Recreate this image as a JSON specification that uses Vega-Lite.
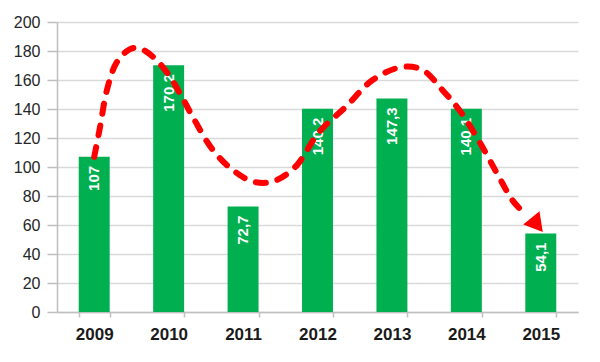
{
  "$schema": "https://vega.github.io/schema/vega-lite/v6.json",
  "width": 521,
  "height": 290,
  "autosize": {"type": "none"},
  "padding": {"left": 57, "top": 22, "right": 22, "bottom": 50},
  "background": "white",
  "datasets": {
    "bars": [
      {"year": "2009", "value": 107},
      {"year": "2010", "value": 170.2},
      {"year": "2011", "value": 72.7},
      {"year": "2012", "value": 140.2},
      {"year": "2013", "value": 147.3},
      {"year": "2014", "value": 140.1},
      {"year": "2015", "value": 54.1}
    ],
    "curve": [
      {"pos": 0.5, "value": 107},
      {"pos": 0.58, "value": 128},
      {"pos": 0.67, "value": 153},
      {"pos": 0.8, "value": 172},
      {"pos": 0.97, "value": 181},
      {"pos": 1.1, "value": 182},
      {"pos": 1.29, "value": 176},
      {"pos": 1.48, "value": 165},
      {"pos": 1.65, "value": 151},
      {"pos": 1.83, "value": 134},
      {"pos": 2.09, "value": 112},
      {"pos": 2.36, "value": 98},
      {"pos": 2.63, "value": 90},
      {"pos": 2.9, "value": 90},
      {"pos": 3.2, "value": 100},
      {"pos": 3.52, "value": 124},
      {"pos": 3.89, "value": 142},
      {"pos": 4.24, "value": 160},
      {"pos": 4.64, "value": 169},
      {"pos": 4.91, "value": 167},
      {"pos": 5.18, "value": 153},
      {"pos": 5.41, "value": 139},
      {"pos": 5.68, "value": 117},
      {"pos": 5.95, "value": 92},
      {"pos": 6.12, "value": 77},
      {"pos": 6.3, "value": 67}
    ],
    "arrow": [
      {"pos": 6.45, "value": 60}
    ]
  },
  "encoding": {
    "y": {
      "field": "value", "type": "quantitative",
      "scale": {"domain": [0, 200], "nice": false},
      "axis": {
        "title": null, "values": [0, 20, 40, 60, 80, 100, 120, 140, 160, 180, 200],
        "labelOverlap": false,
        "grid": true, "gridColor": "#d9d9d9", "gridWidth": 1.5,
        "labelFont": "Liberation Sans", "labelFontSize": 16, "labelColor": "#262626",
        "tickSize": 10, "labelPadding": 7, "domainColor": "#bfbfbf", "tickColor": "#bfbfbf",
        "domainWidth": 1.5, "tickWidth": 1.5
      }
    }
  },
  "layer": [
    {
      "data": {"name": "bars"},
      "mark": {"type": "bar", "color": "#00B050"},
      "encoding": {
        "x": {
          "field": "year", "type": "nominal", "sort": null,
          "scale": {"paddingInner": 0.584, "paddingOuter": 0.292},
          "axis": {
            "title": null, "labelAngle": 0, "tickBand": "extent", "grid": false,
            "labelFont": "Liberation Sans", "labelFontWeight": "bold", "labelFontSize": 17,
            "labelColor": "#1a1a1a", "tickSize": 5, "labelPadding": 9,
            "domainColor": "#bfbfbf", "tickColor": "#bfbfbf", "domainWidth": 1.5, "tickWidth": 1.5
          }
        }
      }
    },
    {
      "data": {"name": "bars"},
      "mark": {
        "type": "text", "angle": 270, "align": "right", "baseline": "middle", "dx": -9,
        "color": "white", "font": "Liberation Sans", "fontWeight": "bold", "fontSize": 15
      },
      "encoding": {
        "x": {"field": "year", "type": "nominal", "sort": null, "scale": {"paddingInner": 0.584, "paddingOuter": 0.292}, "axis": null},
        "text": {"field": "value", "type": "quantitative", "format": ".1~f"}
      }
    },
    {
      "data": {"name": "curve"},
      "mark": {
        "type": "line", "color": "#FF0000", "strokeWidth": 6, "strokeDash": [10, 12],
        "strokeCap": "round", "interpolate": "catmull-rom"
      },
      "encoding": {
        "x": {"field": "pos", "type": "quantitative", "scale": {"domain": [0, 7], "nice": false, "zero": false}, "axis": null},
        "order": {"field": "pos", "type": "quantitative"}
      }
    },
    {
      "data": {"name": "arrow"},
      "mark": {"type": "point", "shape": "triangle-down", "filled": true, "color": "#FF0000", "opacity": 1, "size": 440, "angle": 321},
      "encoding": {
        "x": {"field": "pos", "type": "quantitative", "scale": {"domain": [0, 7], "nice": false, "zero": false}, "axis": null}
      }
    }
  ],
  "resolve": {"scale": {"x": "independent"}},
  "config": {
    "view": {"stroke": null},
    "locale": {"number": {"decimal": ",", "thousands": " ", "grouping": [3], "currency": ["", ""]}}
  }
}
